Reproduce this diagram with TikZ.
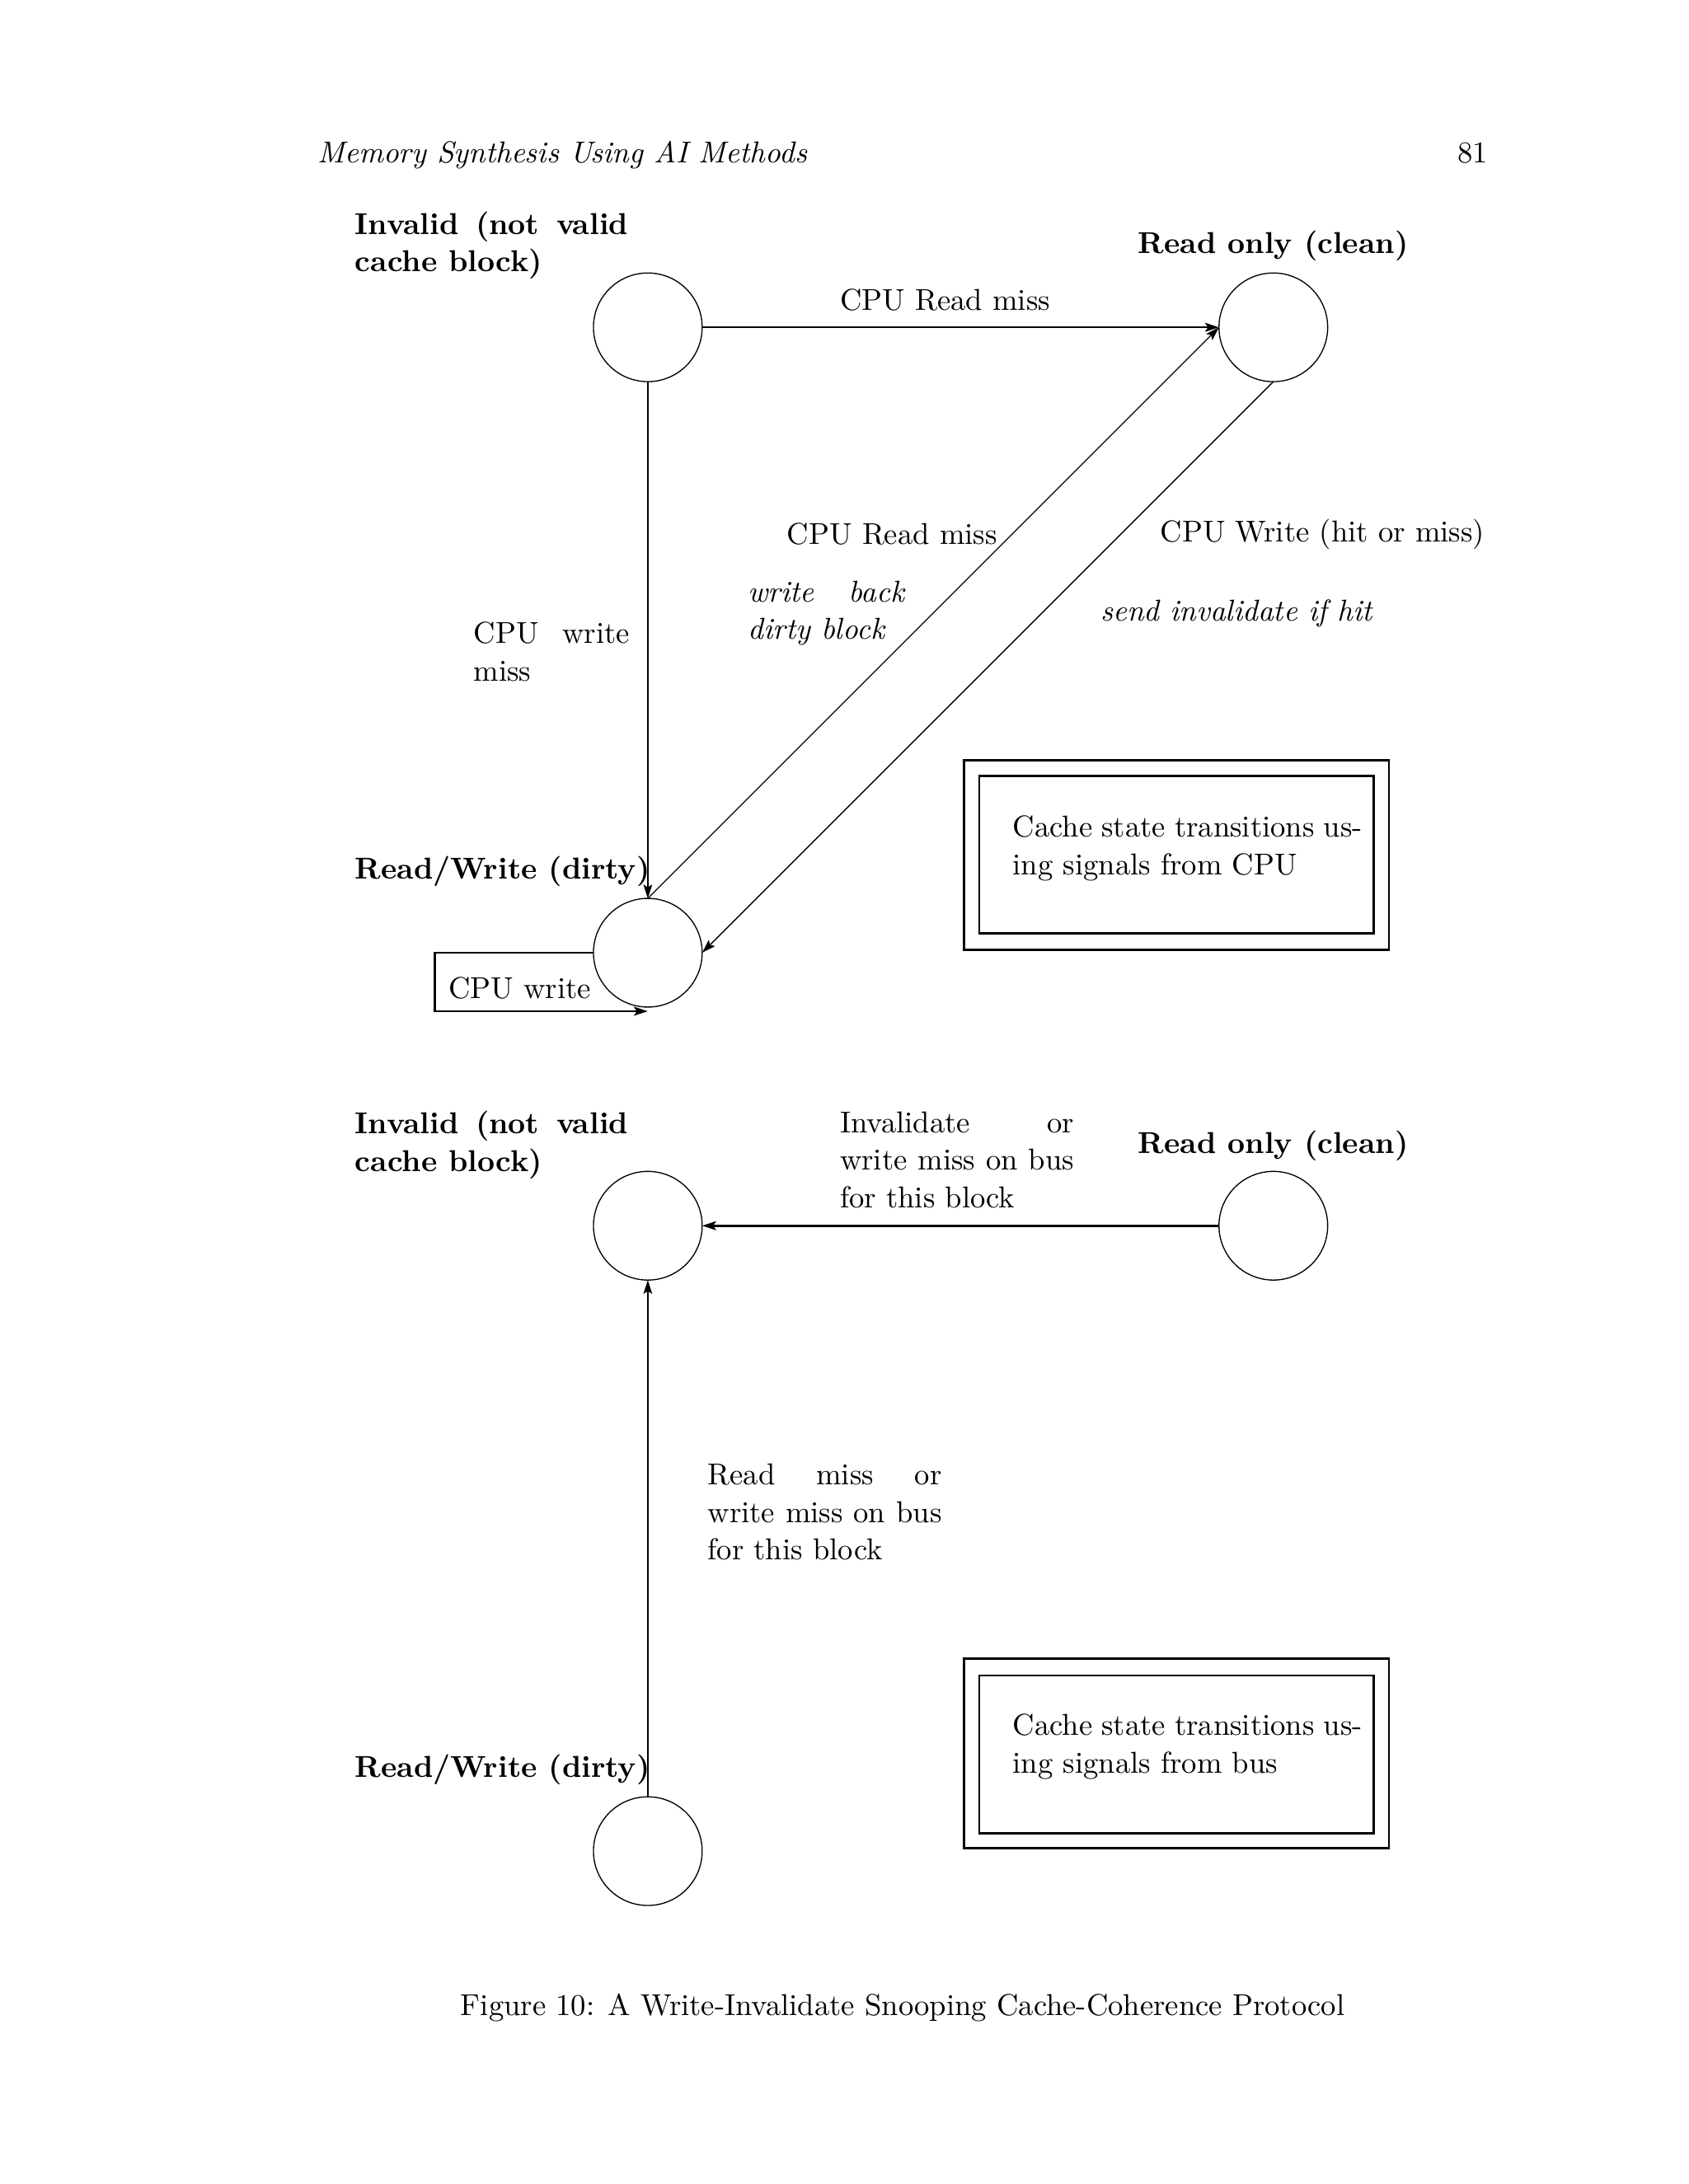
\documentclass[tikz,border=0pt]{standalone}
\usetikzlibrary{arrows.meta,calc}
\begin{document}
\begin{tikzpicture}[x=0.50495pt,y=-0.50495pt,
  every node/.style={font=\fontsize{10.95}{13.6}\selectfont, inner sep=0pt, outer sep=0pt},
  state/.style={circle, draw, line width=0.4pt, minimum size=39.4pt},
  wire/.style={line width=0.4pt},
  heavy/.style={line width=0.8pt},
  tip/.style={-{Stealth[length=5pt,width=3.2pt,inset=1pt]}},
  lbl/.style={anchor=base west, align=left},
  boldlbl/.style={anchor=base west, align=left, font=\fontsize{10.95}{13.6}\selectfont\bfseries},
  itlbl/.style={anchor=base west, align=left, font=\fontsize{10.95}{13.6}\selectfont\itshape},
  frame/.style={draw, line width=0.8pt}]
\useasboundingbox (0,0) rectangle (1212,1568);

% header
\node[anchor=base west, font=\fontsize{10.95}{13.6}\selectfont\itshape] (hdr) at (228,117) {Memory Synthesis Using AI Methods};
\node[anchor=base east] (pg) at (1068,117) {81};

% ---------- CPU diagram ----------
\node[state] (A) at (465,235) {};
\node[state] (B) at (914,235) {};
\node[state] (C) at (465,684) {};

\node[boldlbl] (lA) at (255,195) {\makebox[98.97pt][s]{Invalid (not valid}\\cache block)};
\node[boldlbl] (lB) at (817,182) {Read only (clean)};
\node[boldlbl] (lC) at (255,631) {Read/Write (dirty)};

\draw[heavy,tip] (A.east) -- (B.west);
\draw[wire,tip] (A.south) -- (C.north);
\draw[wire,tip] (C.north) -- (B.west);
\draw[wire,tip] (B.south) -- (C.east);
\draw[heavy,tip] (C.west) -- ++(-114,0) |- ($(C.south)+(0,3)$);

\node[lbl] (eAB) at (603,223) {CPU Read miss};
\node[lbl] (eAC) at (340,489) {\makebox[56.55pt][s]{CPU write}\\miss};
\node[lbl] (eCB) at (565,391) {CPU Read miss};
\node[itlbl] (eCBb) at (537,459) {\makebox[56.55pt][s]{write back}\\dirty block};
\node[lbl] (eBC) at (833,389) {CPU Write (hit or miss)};
\node[itlbl] (eBCb) at (790,446) {send invalidate if hit};
\node[lbl] (eCC) at (322,717) {CPU write};

\node[frame, minimum width=154.0pt, minimum height=68.7pt] (o1) at (844.5,614) {};
\node[frame, minimum width=142.9pt, minimum height=57.1pt] (i1) at (844.5,613.5) {};
\node[lbl] (t1) at (727,628) {\makebox[126.7pt][s]{Cache state transitions us-}\\ing signals from CPU};

% ---------- bus diagram ----------
\node[state] (A2) at (465,880) {};
\node[state] (B2) at (914,880) {};
\node[state] (C2) at (465,1329) {};

\node[boldlbl] (lA2) at (255,841) {\makebox[98.97pt][s]{Invalid (not valid}\\cache block)};
\node[boldlbl] (lB2) at (817,828) {Read only (clean)};
\node[boldlbl] (lC2) at (255,1276) {Read/Write (dirty)};

\draw[heavy,tip] (B2.west) -- (A2.east);
\draw[wire,tip] (C2.north) -- (A2.south);

\node[lbl] (eBA2) at (603,867) {\makebox[84.83pt][s]{Invalidate or}\\\makebox[84.83pt][s]{write miss on bus}\\for this block};
\node[lbl] (eCA2) at (508,1120) {\makebox[84.83pt][s]{Read miss or}\\\makebox[84.83pt][s]{write miss on bus}\\for this block};

\node[frame, minimum width=154.0pt, minimum height=68.7pt] (o2) at (844.5,1259) {};
\node[frame, minimum width=142.9pt, minimum height=57.1pt] (i2) at (844.5,1259.5) {};
\node[lbl] (t2) at (727,1273) {\makebox[126.7pt][s]{Cache state transitions us-}\\ing signals from bus};

% caption
\node[anchor=base] (cap) at (648,1447) {Figure 10: A Write-Invalidate Snooping Cache-Coherence Protocol};
\end{tikzpicture}
\end{document}
